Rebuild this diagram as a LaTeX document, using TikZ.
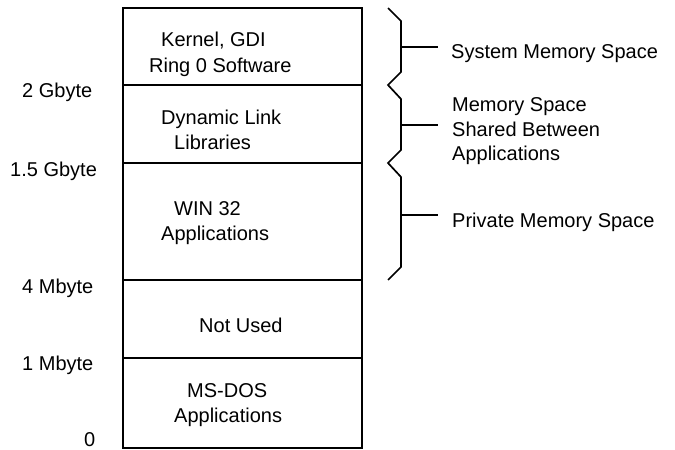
\documentclass[tikz,border=0pt]{standalone}
\usepackage{fontspec}
\setmainfont{Liberation Sans}
\begin{document}
\begin{tikzpicture}[x=1pt,y=-1pt,
  lbl/.style={anchor=base west,inner sep=0pt,font=\fontsize{20}{24}\selectfont},
  ln/.style={line width=1.7pt,black},
  brace/.style={line width=1.7pt,black,line join=miter}]
\useasboundingbox (0,0) rectangle (675,450);
% memory box
\coordinate (tl) at (123,8);
\coordinate (br) at (362,448);
\draw[ln] (tl) rectangle (br);
\foreach \y/\n in {85/d1,163/d2,280/d3,358/d4}{
  \coordinate (\n l) at (123,\y);
  \coordinate (\n r) at (362,\y);
  \draw[ln] (\n l) -- (\n r);
}
% inner texts
\node[lbl] (k1) at (161,46) {Kernel, GDI};
\node[lbl] (k2) at (149,72) {Ring 0 Software};
\node[lbl] (dl1) at (161,124) {Dynamic Link};
\node[lbl] (dl2) at (174,149) {Libraries};
\node[lbl] (w1) at (174,215) {WIN 32};
\node[lbl] (w2) at (161,240) {Applications};
\node[lbl] (nu) at (199,332) {Not Used};
\node[lbl] (ms1) at (187,397) {MS-DOS};
\node[lbl] (ms2) at (174,422) {Applications};
% left address labels
\node[lbl] (a2g) at (22,97) {2 Gbyte};
\node[lbl] (a15) at (10,176) {1.5 Gbyte};
\node[lbl] (a4m) at (22,293) {4 Mbyte};
\node[lbl] (a1m) at (22,370) {1 Mbyte};
\node[lbl] (a0) at (84,446) {0};
% braces
\draw[brace] (388,8) -- (401,21) -- (401,72) -- (388,85) -- (401,99)
  -- (401,150) -- (388,163) -- (401,177) -- (401,267) -- (388,280);
\coordinate (t1) at (401,47);
\coordinate (t2) at (401,125);
\coordinate (t3) at (401,215);
\coordinate (e1) at (438,47);
\coordinate (e2) at (438,125);
\coordinate (e3) at (438,215);
\draw[ln] (t1) -- (e1);
\draw[ln] (t2) -- (e2);
\draw[ln] (t3) -- (e3);
% right labels
\node[lbl] (r1) at (451,58) {System Memory Space};
\node[lbl] (r2a) at (452,111) {Memory Space};
\node[lbl] (r2b) at (452,136) {Shared Between};
\node[lbl] (r2c) at (452,160) {Applications};
\node[lbl] (r3) at (452,227) {Private Memory Space};
\end{tikzpicture}
\end{document}
